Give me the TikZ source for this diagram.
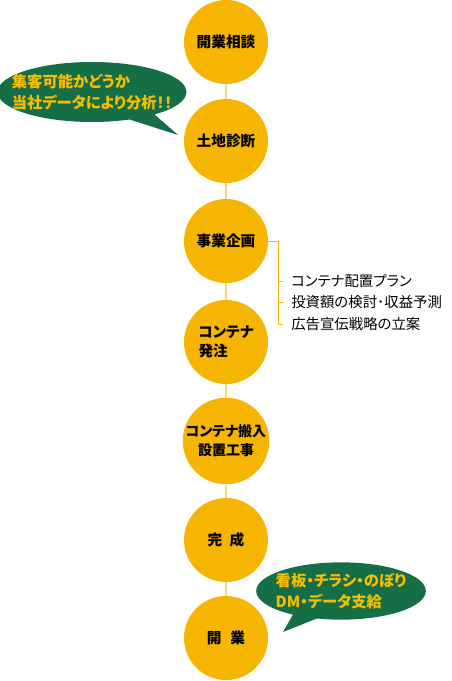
\documentclass[tikz,border=0pt]{standalone}
\usepackage{fontspec}
\setmainfont[RawFeature=+palt]{Noto Sans CJK JP}
\usetikzlibrary{shapes.callouts}
\definecolor{stagegold}{RGB}{246,181,0}
\definecolor{linkgold}{RGB}{249,214,120}
\definecolor{bubblegreen}{RGB}{22,110,70}
\definecolor{textgold}{RGB}{246,190,0}
\begin{document}
\begin{tikzpicture}[x=0.75pt, y=-0.75pt,
  stage/.style={circle, fill=stagegold, minimum size=63pt, inner sep=0pt, align=center,
    font=\fontsize{11}{14}\selectfont\bfseries},
  link/.style={draw=linkgold, line width=1.5pt},
  bubble/.style={ellipse callout, fill=bubblegreen, text=textgold, align=left, inner ysep=0pt,
    callout pointer arc=18, font=\fontsize{11.5}{16}\selectfont\bfseries},
  item/.style={anchor=west, inner sep=0pt, font=\fontsize{10.8}{12}\selectfont}]
\useasboundingbox (0,0) rectangle (451,681);
% steps
\node[stage] (kaigyo)  at (226,42)  {開業相談};
\node[stage] (tochi)   at (226,141) {土地診断};
\node[stage] (kikaku)  at (226,241) {事業企画};
\node[stage, align=left] (hatchu) at (226,342) {コンテナ\\発注};
\node[stage, font=\fontsize{10.5}{14}\selectfont\bfseries] (hannyu) at (226,441) {コンテナ搬入\\設置工事};
\node[stage] (kansei)  at (226,540) {完\hspace{0.5em}成};
\node[stage] (open)    at (226,638) {開\hspace{0.6em}業};
\draw[link] (kaigyo) -- (tochi);
\draw[link] (tochi) -- (kikaku);
\draw[link] (kikaku) -- (hatchu);
\draw[link] (hatchu) -- (hannyu);
\draw[link] (hannyu) -- (kansei);
\draw[link] (kansei) -- (open);
% plan items
\node[item] (plan1) at (291,281) {コンテナ配置プラン};
\node[item] (plan2) at (291,302) {投資額の検討･収益予測};
\node[item] (plan3) at (291,324) {広告宣伝戦略の立案};
\coordinate (brk) at (278,241);
\draw[stagegold, line width=0.6pt] (kikaku.east) -- (brk) |- ([xshift=-6pt]plan3.west);
\draw[stagegold, line width=0.6pt] (brk |- plan1.west) -- ([xshift=-6pt]plan1.west);
\draw[stagegold, line width=0.6pt] (brk |- plan2.west) -- ([xshift=-6pt]plan2.west);
% bubbles
\coordinate (tip1) at (178,135);
\coordinate (tip2) at (283,632);
\node[bubble, inner xsep=-10pt, minimum height=45pt, callout absolute pointer=(tip1)]
  (note1) at (92,92) {集客可能かどうか\\当社データにより分析！！};
\node[bubble, inner xsep=-4pt, minimum height=43pt, callout absolute pointer=(tip2)]
  (note2) at (341,591) {看板・チラシ・のぼり\\DM・データ支給};
\end{tikzpicture}
\end{document}
